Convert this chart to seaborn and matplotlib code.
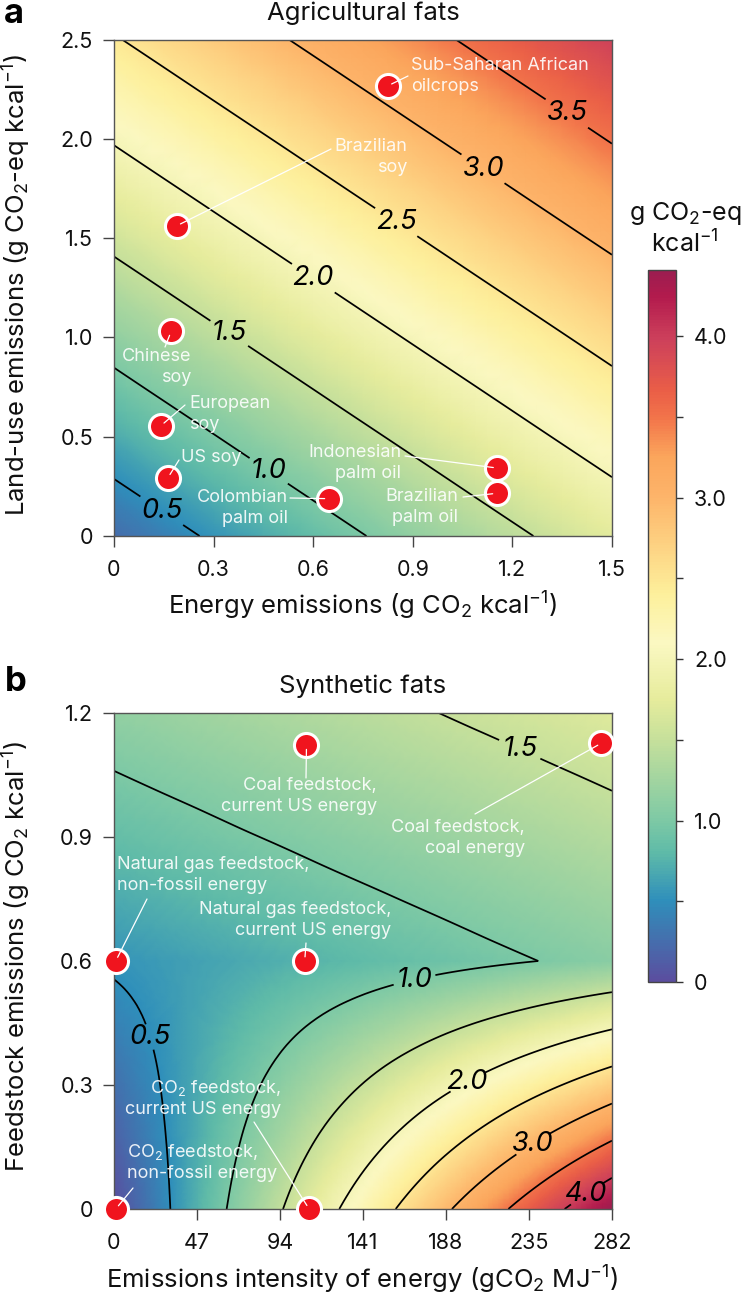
import numpy as np
import matplotlib
matplotlib.use("Agg")
import matplotlib.pyplot as plt
from matplotlib.cm import ScalarMappable
from matplotlib.colors import LinearSegmentedColormap, Normalize
from matplotlib.tri import Triangulation, UniformTriRefiner
import seaborn as sns

a_x = [0, 0.3, 0.6, 0.9, 1.2, 1.5]
a_y = [0, 0.5, 1.0, 1.5, 2.0, 2.5]
a_z = [
    [0.243, 0.542, 0.840, 1.139, 1.437, 1.736],
    [0.690, 0.988, 1.287, 1.585, 1.884, 2.182],
    [1.136, 1.435, 1.733, 2.032, 2.330, 2.629],
    [1.583, 1.881, 2.180, 2.478, 2.777, 3.075],
    [2.029, 2.328, 2.626, 2.925, 3.223, 3.522],
    [2.476, 2.774, 3.073, 3.371, 3.670, 3.968],
]

# surface b, it has a crease along the natural gas row (0.6)
b_x = [0, 23.5, 47, 70.5, 94, 117.5, 141, 164.5, 188, 211.5, 235, 258.5, 282]
b_y_low = [0, 0.1, 0.2, 0.3, 0.4, 0.5, 0.6]
b_z_low = [
    [0.000, 0.368, 0.737, 1.105, 1.473, 1.842, 2.210, 2.578, 2.947, 3.315, 3.683, 4.052, 4.420],
    [0.090, 0.404, 0.719, 1.033, 1.348, 1.662, 1.977, 2.291, 2.606, 2.920, 3.234, 3.549, 3.863],
    [0.180, 0.441, 0.701, 0.962, 1.222, 1.483, 1.743, 2.004, 2.264, 2.525, 2.786, 3.046, 3.307],
    [0.270, 0.477, 0.683, 0.890, 1.097, 1.303, 1.510, 1.717, 1.923, 2.130, 2.337, 2.543, 2.750],
    [0.360, 0.513, 0.666, 0.818, 0.971, 1.124, 1.277, 1.429, 1.582, 1.735, 1.888, 2.041, 2.193],
    [0.450, 0.549, 0.648, 0.747, 0.846, 0.944, 1.043, 1.142, 1.241, 1.340, 1.439, 1.538, 1.637],
    [0.540, 0.585, 0.630, 0.675, 0.720, 0.765, 0.810, 0.855, 0.900, 0.945, 0.990, 1.035, 1.080],
]
b_y_high = [0.6, 0.7, 0.8, 0.9, 1.0, 1.1, 1.2]
b_z_high = [
    [0.540, 0.585, 0.630, 0.675, 0.720, 0.765, 0.810, 0.855, 0.900, 0.945, 0.990, 1.035, 1.080],
    [0.640, 0.685, 0.730, 0.776, 0.821, 0.866, 0.911, 0.956, 1.001, 1.047, 1.092, 1.137, 1.182],
    [0.740, 0.785, 0.831, 0.876, 0.921, 0.967, 1.012, 1.057, 1.103, 1.148, 1.193, 1.239, 1.284],
    [0.840, 0.886, 0.931, 0.977, 1.022, 1.068, 1.113, 1.159, 1.204, 1.250, 1.295, 1.341, 1.386],
    [0.940, 0.986, 1.031, 1.077, 1.123, 1.168, 1.214, 1.260, 1.305, 1.351, 1.397, 1.442, 1.488],
    [1.040, 1.086, 1.132, 1.177, 1.223, 1.269, 1.315, 1.361, 1.407, 1.452, 1.498, 1.544, 1.590],
    [1.140, 1.186, 1.232, 1.278, 1.324, 1.370, 1.416, 1.462, 1.508, 1.554, 1.600, 1.646, 1.692],
]

# points
a_energy = [0.825, 0.189, 0.172, 0.141, 0.162, 0.647, 1.155, 1.153]
a_landuse = [2.267, 1.562, 1.03, 0.555, 0.292, 0.188, 0.342, 0.215]
b_energy = [109, 276, 1, 108, 1, 110.5]
b_feedstock = [1.122, 1.127, 0.6, 0.6, 0.0, 0.0]

a_xticks = [0, 0.3, 0.6, 0.9, 1.2, 1.5]
a_xlabels = ["0", "0.3", "0.6", "0.9", "1.2", "1.5"]
a_yticks = [0, 0.5, 1.0, 1.5, 2.0, 2.5]
a_ylabels = ["0", "0.5", "1.0", "1.5", "2.0", "2.5"]
b_xticks = [0, 47, 94, 141, 188, 235, 282]
b_xlabels = ["0", "47", "94", "141", "188", "235", "282"]
b_yticks = [0, 0.3, 0.6, 0.9, 1.2]
b_ylabels = ["0", "0.3", "0.6", "0.9", "1.2"]
cbar_ticks = [0, 0.5, 1.0, 1.5, 2.0, 2.5, 3.0, 3.5, 4.0]
cbar_labels = ["0", "", "1.0", "", "2.0", "", "3.0", "", "4.0"]

W, H = 743, 1298
FONT = "Inter"

sns.set_theme(style="ticks")
plt.rcParams["font.family"] = [FONT, "DejaVu Sans"]
plt.rcParams["mathtext.fontset"] = "custom"
plt.rcParams["mathtext.rm"] = FONT
plt.rcParams["mathtext.default"] = "regular"

cmap = LinearSegmentedColormap.from_list("emissions", [
    (0.0, "#5b4e9f"), (0.5 / 4.41, "#2f8fbb"), (0.8 / 4.41, "#5fbba8"),
    (1.0 / 4.41, "#7ec9a5"), (1.5 / 4.41, "#c6e09b"), (1.75 / 4.41, "#e6ec9c"),
    (2.1 / 4.41, "#fbf8c2"), (2.4 / 4.41, "#fdf09c"), (3.0 / 4.41, "#fdb56a"),
    (3.26 / 4.41, "#fba55c"), (3.5 / 4.41, "#f2744a"), (3.67 / 4.41, "#ea5e47"),
    (3.88 / 4.41, "#d64a55"), (4.0 / 4.41, "#cc3f5b"), (4.25 / 4.41, "#b31b4d"),
    (1.0, "#9c1d50"),
])
norm = Normalize(0, 4.41)


def px_axes(fig, left, top, right, bottom):
    return fig.add_axes([left / W, 1 - bottom / H, (right - left) / W, (bottom - top) / H])


def fig_xy(x, y):
    return x / W, 1 - y / H


def draw_surface(ax, x, y, z, plain, label_spots):
    # let matplotlib smooth the read table for drawing
    gx, gy = np.meshgrid(x, y)
    tri = Triangulation(gx.ravel(), gy.ravel())
    fine_tri, fine_z = UniformTriRefiner(tri).refine_field(np.array(z).ravel(), subdiv=3)
    ax.tripcolor(fine_tri, fine_z, cmap=cmap, norm=norm, shading="gouraud", rasterized=True)
    # labelled and unlabelled contours go separately, clabel wants all its levels labelled
    cs = ax.tricontour(fine_tri, fine_z, levels=[l for l, _ in label_spots], colors="black", linewidths=1.25)
    if plain:
        ax.tricontour(fine_tri, fine_z, levels=plain, colors="black", linewidths=1.25)
    texts = ax.clabel(cs, fmt="%.1f", inline=True, inline_spacing=5,
                      manual=[p for _, p in label_spots], fontsize=19.5)
    for t in texts:
        t.set_rotation(0)
        t.set_fontstyle("italic")


def style_axes(ax, xlim, ylim, xticks, xlabels, yticks, ylabels):
    ax.set_xlim(*xlim)
    ax.set_ylim(*ylim)
    ax.set_xticks(xticks, xlabels)
    ax.set_yticks(yticks, ylabels)
    ax.tick_params(length=8, width=1, color="#444444", labelsize=15.5, labelcolor="#111111")
    ax.tick_params(axis="x", pad=9)
    ax.tick_params(axis="y", pad=7)
    for s in ax.spines.values():
        s.set_color("#555555")
        s.set_linewidth(1)


def draw_points(ax, x, y):
    sns.scatterplot(x=x, y=y, ax=ax, s=300, color="#f0141e", edgecolor="white", linewidth=2.2,
                    zorder=6, clip_on=False, legend=False)


def note(fig, text, x, y, ha):
    fig.text(x / W, 1 - y / H, text, ha=ha, va="center", color="white", fontsize=13,
             alpha=0.9, linespacing=1.25, zorder=10)


def leader(ax, start, point):
    ax.annotate("", xy=point, xycoords="data", xytext=fig_xy(*start), textcoords="figure fraction",
                arrowprops=dict(arrowstyle="-", color="white", lw=0.9, shrinkA=0, shrinkB=3),
                zorder=8, annotation_clip=False)


fig = plt.figure(figsize=(W / 100, H / 100), dpi=100)
ax_a = px_axes(fig, 114, 39.5, 612, 536)
ax_b = px_axes(fig, 114, 713, 612, 1209)
ax_c = px_axes(fig, 648, 270, 676, 982)

draw_surface(ax_a, a_x, a_y, a_z, [],
             [(0.5, (0.139, 0.115)), (1.0, (0.466, 0.328)), (1.5, (0.343, 1.01)), (2.0, (0.596, 1.287)),
              (2.5, (0.846, 1.57)), (3.0, (1.108, 1.84)), (3.5, (1.361, 2.12))])
draw_surface(ax_b, b_x, b_y_low, b_z_low, [1.5, 2.5, 3.5],
             [(0.5, (19.6, 0.416)), (1.0, (169, 0.56)), (2.0, (199, 0.31)),
              (3.0, (235, 0.16)), (4.0, (265.5, 0.04))])
draw_surface(ax_b, b_x, b_y_high, b_z_high, [1.0], [(1.5, (229, 1.105))])
style_axes(ax_a, (0, 1.5), (0, 2.5), a_xticks, a_xlabels, a_yticks, a_ylabels)
style_axes(ax_b, (0, 282), (0, 1.2), b_xticks, b_xlabels, b_yticks, b_ylabels)
draw_points(ax_a, a_energy, a_landuse)
draw_points(ax_b, b_energy, b_feedstock)

# leader lines, from the label end to the point
a_starts = [(408, 76), (331, 149), (165, 347), (185, 405), (179, 460), (290, 498), (405, 456), (463, 497)]
for s, px, py in zip(a_starts, a_energy, a_landuse):
    leader(ax_a, s, (px, py))
b_starts = [(306, 778), (475, 814), (147, 899), (306, 943), (133, 1188), (254, 1122)]
for s, px, py in zip(b_starts, b_energy, b_feedstock):
    leader(ax_b, s, (px, py))

note(fig, "Sub-Saharan African\noilcrops", 411, 76, "left")
note(fig, "Brazilian\nsoy", 407, 157, "right")
note(fig, "Chinese\nsoy", 191, 367, "right")
note(fig, "European\nsoy", 189, 414, "left")
note(fig, "US soy", 181, 457, "left")
note(fig, "Colombian\npalm oil", 288, 508, "right")
note(fig, "Indonesian\npalm oil", 401, 463, "right")
note(fig, "Brazilian\npalm oil", 458, 507, "right")
note(fig, "Coal feedstock,\ncurrent US energy", 377, 796, "right")
note(fig, "Coal feedstock,\ncoal energy", 525, 838, "right")
note(fig, "Natural gas feedstock,\nnon-fossil energy", 117, 875, "left")
note(fig, "Natural gas feedstock,\ncurrent US energy", 391, 920, "right")
note(fig, "CO$_2$ feedstock,\ncurrent US energy", 281, 1098, "right")
note(fig, "CO$_2$ feedstock,\nnon-fossil energy", 127, 1162, "left")

# titles and axis labels
label_size = 18.5
for text, x, y, rot in [
    ("Agricultural fats", 363, 13, 0),
    ("Synthetic fats", 363, 686, 0),
    ("Energy emissions (g CO$_2$ kcal$^{-1}$)", 363, 606, 0),
    ("Emissions intensity of energy (gCO$_2$ MJ$^{-1}$)", 362, 1280, 0),
    ("Land-use emissions (g CO$_2$-eq kcal$^{-1}$)", 17, 285, 90),
    ("Feedstock emissions (g CO$_2$ kcal$^{-1}$)", 17, 957, 90),
]:
    fig.text(x / W, 1 - y / H, text, ha="center", va="center", rotation=rot,
             fontsize=label_size, color="#111111")
fig.text(4 / W, 1 - 14 / H, "a", fontsize=25, fontweight="bold", va="center", color="black")
fig.text(5 / W, 1 - 682 / H, "b", fontsize=25, fontweight="bold", va="center", color="black")

# colour bar
cb = fig.colorbar(ScalarMappable(norm=norm, cmap=cmap), cax=ax_c)
cb.set_ticks(cbar_ticks, labels=cbar_labels)
ax_c.tick_params(length=5, width=1, color="#333333", labelsize=15.5, pad=8, labelcolor="#111111")
cb.outline.set_edgecolor("#444444")
cb.outline.set_linewidth(1)
fig.text(685 / W, 1 - 229 / H, "g CO$_2$-eq\nkcal$^{-1}$", ha="center", va="center",
         fontsize=18, color="#111111", linespacing=1.15)

fig.savefig("out.png", dpi=100)
plt.close(fig)
